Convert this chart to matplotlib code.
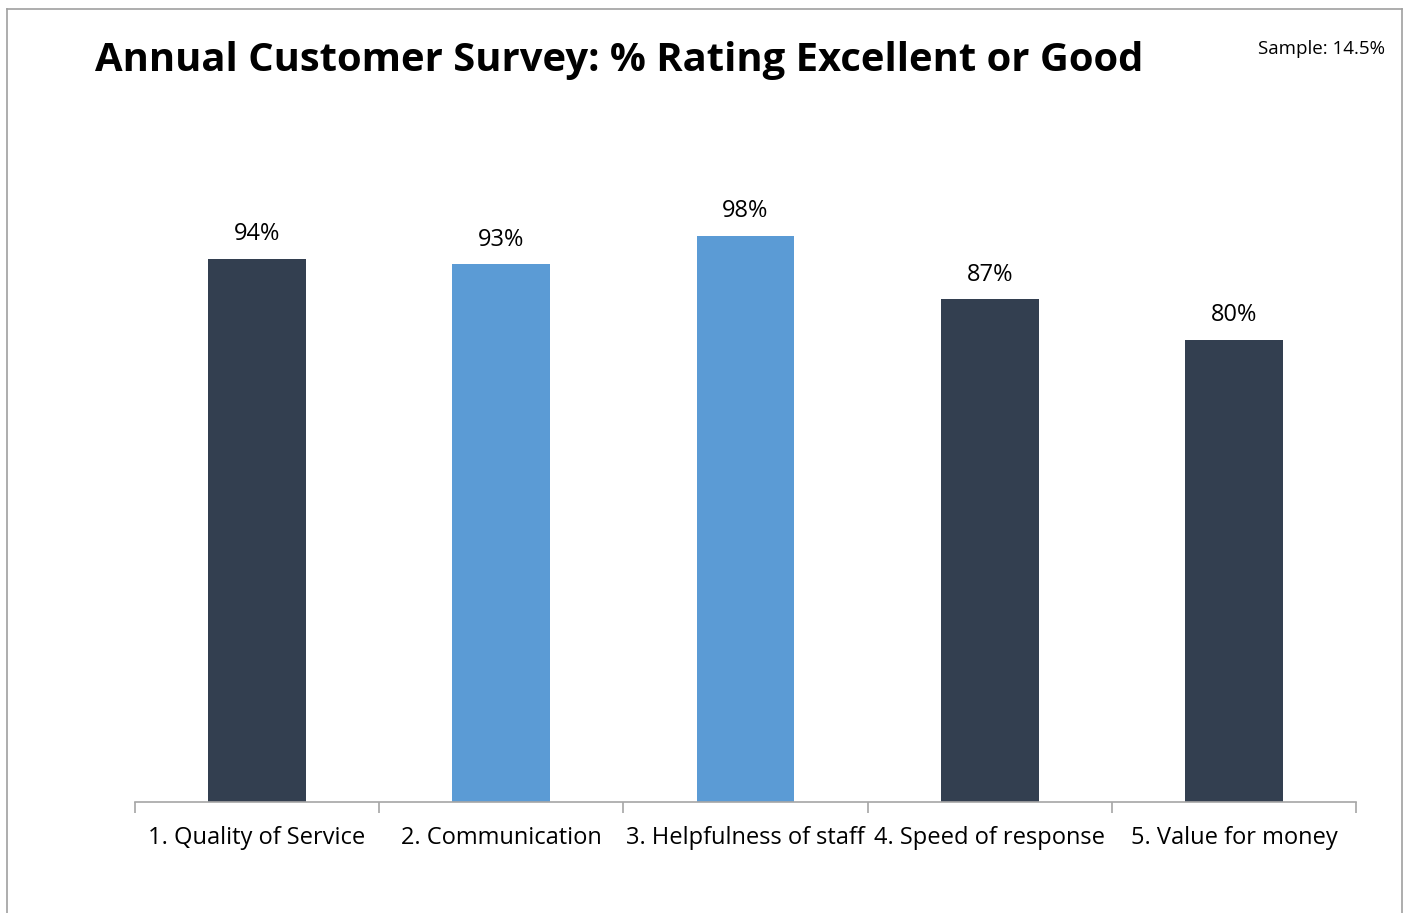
import matplotlib.pyplot as plt
from matplotlib.lines import Line2D

categories = ['1. Quality of Service', '2. Communication', '3. Helpfulness of staff',
              '4. Speed of response', '5. Value for money']
values = [94, 93, 98, 87, 80]
colors = ['#333F50', '#5B9BD5', '#5B9BD5', '#333F50', '#333F50']

plt.rcParams['font.family'] = ['Open Sans', 'DejaVu Sans']

W, H = 1407, 913
fig = plt.figure(figsize=(W / 100, H / 100), dpi=100)
ax = fig.add_axes([135 / W, (H - 802) / H, (1356 - 135) / W, (802 - 150) / H])

x = range(len(categories))
bars = ax.bar(x, values, width=0.4, color=colors)
ax.bar_label(bars, labels=[f'{v}%' for v in values], padding=9, fontsize=17)

ax.set_xlim(-0.5, len(categories) - 0.5)
ax.set_ylim(0, (802 - 150) / 5.78)
ax.set_xticks(list(x))
ax.set_xticklabels(categories, fontsize=17)
ax.tick_params(axis='x', which='major', length=0, pad=17)
ax.set_xticks([i - 0.5 for i in range(len(categories) + 1)], minor=True)
ax.tick_params(axis='x', which='minor', length=8, color='#A6A6A6', width=1.2)
ax.set_yticks([])
for s in ['top', 'right', 'left']:
    ax.spines[s].set_visible(False)
ax.spines['bottom'].set_color('#A6A6A6')
ax.spines['bottom'].set_linewidth(1.2)

fig.text(95 / W, 1 - 60 / H, 'Annual Customer Survey: % Rating Excellent or Good',
         fontsize=28.8, fontweight='bold', ha='left', va='center')
fig.text(1385 / W, 1 - 49 / H, 'Sample: 14.5%', fontsize=13.5, ha='right', va='center')

# outer chart frame
fx0, fx1, fy = 7 / W, 1402 / W, 1 - 9 / H
for xs, ys in [([fx0, fx0], [0, fy]), ([fx0, fx1], [fy, fy]), ([fx1, fx1], [fy, 0])]:
    fig.add_artist(Line2D(xs, ys, transform=fig.transFigure, color='#A0A0A0', lw=1.2))

fig.savefig('out.png', dpi=100)
